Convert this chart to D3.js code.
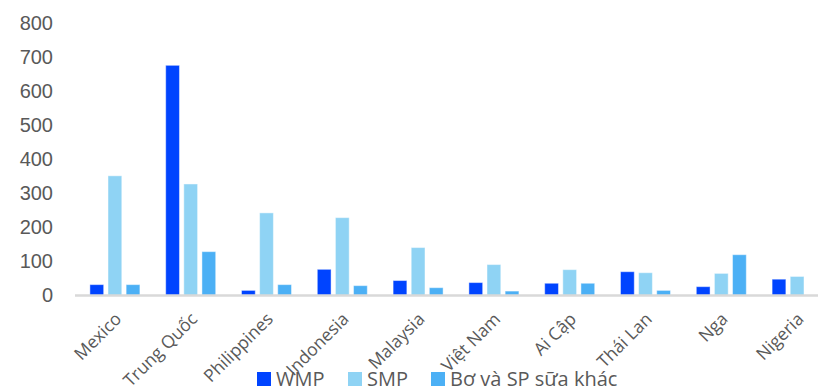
<!DOCTYPE html>
<html>
<head>
<meta charset="utf-8">
<script src="https://cdn.jsdelivr.net/npm/d3@7"></script>
<style>
  html, body { margin: 0; padding: 0; background: #fff; overflow: hidden; }
  svg { display: block; font-family: "Open Sans", "Noto Sans", sans-serif; }
</style>
</head>
<body>
<div id="chart"></div>
<script>
// data
let countries = ["Mexico", "Trung Quốc", "Philippines", "Indonesia", "Malaysia",
                 "Việt Nam", "Ai Cập", "Thái Lan", "Nga", "Nigeria"]
let seriesNames = ["WMP", "SMP", "Bơ và SP sữa khác"]
let wmp = [32, 677, 15, 77, 44, 38, 36, 70, 26, 48]
let smp = [352, 328, 243, 229, 141, 91, 76, 67, 65, 56]
let butter = [32, 129, 32, 29, 23, 13, 36, 15, 120, 0]
let yTicks = [0, 100, 200, 300, 400, 500, 600, 700, 800]
let colors = ["#0044ff", "#8fd3f4", "#4cb0f5"]

let width = 818, height = 388
let margin = {top: 23.5, right: -17, bottom: 92.5, left: 77}

let svg = d3.select("#chart")
  .append("svg")
    .attr("width", width)
    .attr("height", height)

let plot = svg.append("g")
    .attr("transform", "translate(" + margin.left + "," + margin.top + ")")

let innerW = width - margin.left - margin.right,
    innerH = height - margin.top - margin.bottom

let x = d3.scaleBand()
  .domain(countries)
  .range([0, innerW])

let xSub = d3.scaleBand()
  .domain(seriesNames)
  .range([x.bandwidth() / 2 - 25, x.bandwidth() / 2 + 25])
  .paddingInner(0.24)

let y = d3.scaleLinear()
  .domain([0, 800])
  .range([innerH, 0])

// y axis labels only
plot.append("g")
  .call(d3.axisLeft(y).tickValues(yTicks).tickSize(0).tickPadding(24))
  .call(g => g.select(".domain").remove())
  .selectAll("text")
    .style("font-size", "20px")
    .attr("fill", "#595959")

// bars
let rows = countries.map((c, i) => ({country: c, values: [wmp[i], smp[i], butter[i]]}))

let groups = plot.selectAll(".grp")
  .data(rows)
  .enter()
  .append("g")
    .attr("class", "grp")
    .attr("transform", d => "translate(" + x(d.country) + ",0)")

groups.selectAll("rect")
  .data(d => d.values.map((v, k) => ({name: seriesNames[k], value: v, k: k})))
  .enter()
  .filter(d => d.value > 0)
  .append("rect")
    .attr("x", d => xSub(d.name))
    .attr("y", d => y(d.value))
    .attr("width", xSub.bandwidth())
    .attr("height", d => innerH - y(d.value))
    .attr("fill", d => colors[d.k])
    .attr("stroke", "rgba(255,255,255,0.45)")
    .attr("stroke-width", 1)

// x axis line
plot.append("line")
  .attr("x1", -2)
  .attr("x2", innerW)
  .attr("y1", innerH)
  .attr("y2", innerH)
  .attr("stroke", "#d9d9d9")
  .attr("stroke-width", 2.5)

// rotated category labels
plot.selectAll(".xlab")
  .data(countries)
  .enter()
  .append("text")
    .attr("class", "xlab")
    .attr("transform", d => "translate(" + (x(d) + x.bandwidth() / 2 - 1) + "," + (innerH + 16) + ") rotate(-45)")
    .attr("text-anchor", "end")
    .attr("dy", "0.7em")
    .style("font-size", "17.5px")
    .attr("fill", "#595959")
    .text(d => d)

// legend
let legendX = [257, 348, 431]
let legend = svg.selectAll(".leg")
  .data(seriesNames)
  .enter()
  .append("g")
    .attr("class", "leg")
    .attr("transform", (d, i) => "translate(" + legendX[i] + ",372)")

legend.append("rect")
  .attr("width", 14)
  .attr("height", 14)
  .attr("fill", (d, i) => colors[i])

legend.append("text")
  .attr("x", 19)
  .attr("y", 14)
  .style("font-size", "20px")
  .attr("fill", "#595959")
  .text(d => d)
</script>
</body>
</html>
